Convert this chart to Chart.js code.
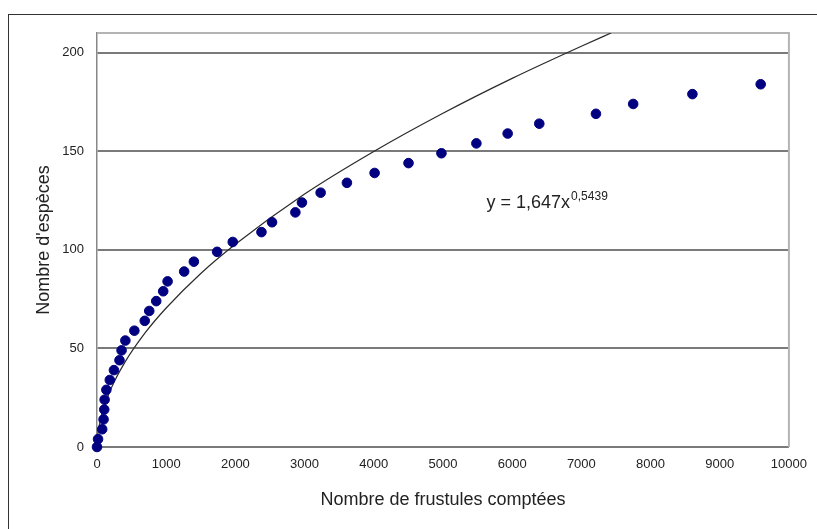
<!DOCTYPE html>
<html>
<head>
<meta charset="utf-8">
<script src="https://cdn.jsdelivr.net/npm/chart.js@4/dist/chart.umd.min.js"></script>
<style>
    body { margin: 0; background: #fff; overflow: hidden; }
    #wrap { position: relative; width: 817px; height: 529px; }
    #frame { position: absolute; left: 8px; top: 14px; width: 900px; height: 600px; border: 1.5px solid #333; }
    canvas#graph { position: absolute; left: 0; top: 0; }
</style>
</head>
<body>
<div id="wrap">
    <div id="frame"></div>
    <canvas id="graph" width="817" height="529"></canvas>
</div>
<script>
// Observed points: frustules counted vs species found
const frustules = [0, 15, 75, 95, 105, 110, 135, 185, 245, 325, 355, 410, 540, 690, 755, 856, 957, 1020, 1260, 1400, 1736, 1962, 2377, 2530, 2867, 2962, 3232, 3612, 4012, 4502, 4978, 5483, 5935, 6392, 7211, 7749, 8605, 9592];
const especes = [0, 4, 9, 14, 19, 24, 29, 34, 39, 44, 49, 54, 59, 64, 69, 74, 79, 84, 89, 94, 99, 104, 109, 114, 119, 124, 129, 134, 139, 144, 149, 154, 159, 164, 169, 174, 179, 184];

// Power trend line
const trendX = [0, 10, 25, 50, 100, 200, 400, 700, 1000, 1500, 2000, 3000, 4000, 5000, 6000, 7000, 7430];
const trendY = [0, 5.8, 9.5, 13.8, 20.2, 29.4, 42.8, 58.1, 70.5, 88.0, 102.8, 128.3, 149.9, 169.3, 187.0, 203.3, 210];

const xTicks = [0, 1000, 2000, 3000, 4000, 5000, 6000, 7000, 8000, 9000, 10000];
const yTicks = [0, 50, 100, 150, 200];

const equation = "y = 1,647x";
const exponent = "0,5439";
const eqAnchor = [5630, 121]; // data units

const FONT = "'Liberation Sans', Arial, sans-serif";

const plotFrame = {
    id: "plotFrame",
    beforeDatasetsDraw(chart) {
        const {ctx, chartArea: a} = chart;
        ctx.save();
        ctx.strokeStyle = "#b4b4b4";
        ctx.lineWidth = 2;
        ctx.beginPath();
        ctx.moveTo(a.left, a.top);
        ctx.lineTo(a.right, a.top);
        ctx.lineTo(a.right, a.bottom);
        ctx.stroke();
        ctx.restore();
    },
    afterDraw(chart) {
        const ctx = chart.ctx;
        const x = chart.scales.x.getPixelForValue(eqAnchor[0]);
        const y = chart.scales.y.getPixelForValue(eqAnchor[1]);
        ctx.save();
        ctx.fillStyle = "#222";
        ctx.textBaseline = "alphabetic";
        ctx.font = "18px " + FONT;
        ctx.fillText(equation, x, y);
        const w = ctx.measureText(equation).width;
        ctx.font = "12px " + FONT;
        ctx.fillText(exponent, x + w + 1, y - 8);
        ctx.restore();
    }
};

const graph = new Chart("graph", {
    type: "scatter",
    data: {
        datasets: [{
            data: frustules.map((v, i) => ({x: v, y: especes[i]})),
            backgroundColor: "#000080",
            borderColor: "#000080",
            pointRadius: 4.8,
            borderWidth: 1,
            clip: false,
            order: 1
        }, {
            data: trendX.map((v, i) => ({x: v, y: trendY[i]})),
            showLine: true,
            borderColor: "#2a2a2a",
            borderWidth: 1.2,
            pointRadius: 0,
            cubicInterpolationMode: "monotone",
            fill: false,
            order: 2
        }]
    },
    options: {
        responsive: false,
        animation: false,
        events: [],
        layout: {padding: {left: 0, top: 33, right: 24, bottom: 0}},
        plugins: {
            legend: {display: false},
            tooltip: {enabled: false}
        },
        scales: {
            x: {
                type: "linear",
                min: 0,
                max: 10000,
                afterBuildTicks: s => { s.ticks = xTicks.map(v => ({value: v})); },
                afterFit: s => { s.height = 82; },
                grid: {display: false, drawTicks: false},
                border: {display: false},
                ticks: {
                    autoSkip: false,
                    maxRotation: 0,
                    padding: 10,
                    color: "#222",
                    font: {family: FONT, size: 13},
                    callback: v => String(v)
                },
                title: {
                    display: true,
                    text: "Nombre de frustules comptées",
                    color: "#222",
                    font: {family: FONT, size: 18},
                    padding: {top: 0, bottom: 18}
                }
            },
            y: {
                min: 0,
                max: 210,
                afterBuildTicks: s => { s.ticks = yTicks.map(v => ({value: v})); },
                afterFit: s => { s.width = 97; },
                grid: {color: "#7a7a7a", lineWidth: 2, drawTicks: false},
                border: {display: true, color: "#888", width: 1.5},
                ticks: {
                    padding: 13,
                    color: "#222",
                    font: {family: FONT, size: 13},
                    callback: v => String(v)
                },
                title: {
                    display: true,
                    text: "Nombre d'espèces",
                    color: "#222",
                    font: {family: FONT, size: 18},
                    padding: {top: 33, bottom: 0}
                }
            }
        }
    },
    plugins: [plotFrame]
});
</script>
</body>
</html>
